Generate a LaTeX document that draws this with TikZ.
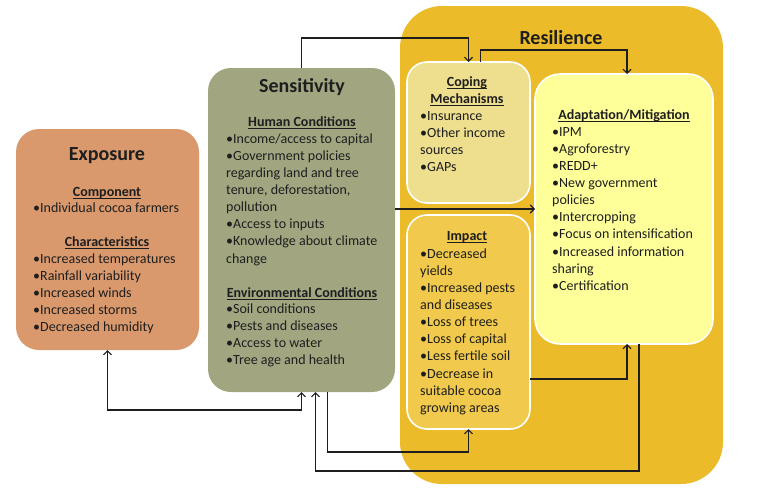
\documentclass[tikz,border=0pt]{standalone}
\usepackage{fontspec}
\setmainfont{Carlito}
\usetikzlibrary{arrows.meta}
\definecolor{expc}{RGB}{217,153,109}
\definecolor{senc}{RGB}{161,166,129}
\definecolor{resc}{RGB}{235,187,41}
\definecolor{copc}{RGB}{238,223,142}
\definecolor{impc}{RGB}{241,201,76}
\definecolor{adac}{RGB}{255,255,153}
\definecolor{txt}{RGB}{30,30,30}
\newcommand\hd[1]{\setbox0\hbox{#1}\rlap{\rule[-2.3pt]{\wd0}{0.8pt}}\box0}
\begin{document}
\begin{tikzpicture}[x=1pt,y=-1pt,
  boxs/.style={rectangle, inner sep=0pt, outer sep=0pt, anchor=north west},
  inbox/.style={boxs, draw=white, line width=1.6pt},
  ttl/.style={font=\fontsize{20}{24}\selectfont\bfseries, text=txt, inner sep=0pt},
  hds/.style={font=\fontsize{14}{17.2}\selectfont\bfseries, text=txt, inner sep=0pt, anchor=base, align=center},
  lst/.style={font=\fontsize{14}{17.15}\selectfont, text=txt, inner sep=0pt, anchor=base west, align=left},
  arr/.style={draw=txt, line width=1.1pt, -{Straight Barb[length=4pt,width=8pt]}},
  arrboth/.style={draw=txt, line width=1.1pt, {Straight Barb[length=4pt,width=8pt]}-{Straight Barb[length=4pt,width=8pt]}}]
\useasboundingbox (0,0) rectangle (757,491);
\fill[white] (0,0) rectangle (757,491);
% boxes
\node[boxs, fill=expc, rounded corners=23pt, minimum width=183pt, minimum height=221pt] (exp) at (16,129) {};
\node[boxs, fill=senc, rounded corners=23pt, minimum width=187pt, minimum height=324pt] (sen) at (208,68) {};
\node[boxs, fill=resc, rounded corners=42pt, minimum width=323pt, minimum height=478pt] (res) at (400,6) {};
\node[inbox, fill=copc, rounded corners=20pt, minimum width=123pt, minimum height=141pt] (cop) at (407,62) {};
\node[inbox, fill=impc, rounded corners=20pt, minimum width=123pt, minimum height=214pt] (imp) at (407,215) {};
\node[inbox, fill=adac, rounded corners=25pt, minimum width=178pt, minimum height=270pt] (ada) at (535,74) {};
% connectors
\draw[arr] (sen.north) -- ++(0,-30) -| (cop.north);
\draw[arr] ([xshift=12pt]cop.north) -- ++(0,-12) -| ([xshift=3pt]ada.north);
\draw[arr] (sen.east |- ada.west) -- (ada.west);
\draw[arr] ([yshift=-57pt]imp.east) -| ([xshift=3pt]ada.south);
\draw[arr] ([xshift=15pt]ada.south) -- ++(0,127) -| ([xshift=14pt]sen.south);
\draw[arr] ([xshift=26pt]sen.south) -- ++(0,60) -| (imp.south);
\draw[arrboth] (exp.south) -- ++(0,60) -| (sen.south);
% Exposure text
\node[ttl] (expt) at (107,156) {Exposure};
\node[hds] (exph1) at (107,196) {\hd{Component}};
\node[lst] (expl1) at (33,212) {•Individual cocoa farmers};
\node[hds] (exph2) at (107,246) {\hd{Characteristics}};
\node[lst] (expl2) at (33,331.6) {•Increased temperatures\\•Rainfall variability\\•Increased winds\\•Increased storms\\•Decreased humidity};
% Sensitivity text
\node[ttl] (sent) at (302,87) {Sensitivity};
\node[hds] (senh1) at (302,126) {\hd{Human Conditions}};
\node[lst] (senl1) at (226,263.05) {•Income/access to capital\\•Government policies\\regarding land and tree\\tenure, deforestation,\\pollution\\•Access to inputs\\•Knowledge about climate\\change};
\node[hds] (senh2) at (302,297) {\hd{Environmental Conditions}};
\node[lst] (senl2) at (226,364.45) {•Soil conditions\\•Pests and diseases\\•Access to water\\•Tree age and health};
% Resilience
\node[ttl] (rest) at (561,38) {Resilience};
\node[hds] (coph) at (467,103.2) {\hd{Coping}\\\hd{Mechanisms}};
\node[lst] (copl) at (420,171.45) {•Insurance\\•Other income\\sources\\•GAPs};
\node[hds] (imph) at (467,240) {\hd{Impact}};
\node[lst] (impl) at (420,412.35) {•Decreased\\yields\\•Increased pests\\and diseases\\•Loss of trees\\•Loss of capital\\•Less fertile soil\\•Decrease in\\suitable cocoa\\growing areas};
\node[hds] (adah) at (624,119) {\hd{Adaptation/Mitigation}};
\node[lst] (adal) at (552,290.35) {•IPM\\•Agroforestry\\•REDD+\\•New government\\policies\\•Intercropping\\•Focus on intensification\\•Increased information\\sharing\\•Certification};
\end{tikzpicture}
\end{document}
